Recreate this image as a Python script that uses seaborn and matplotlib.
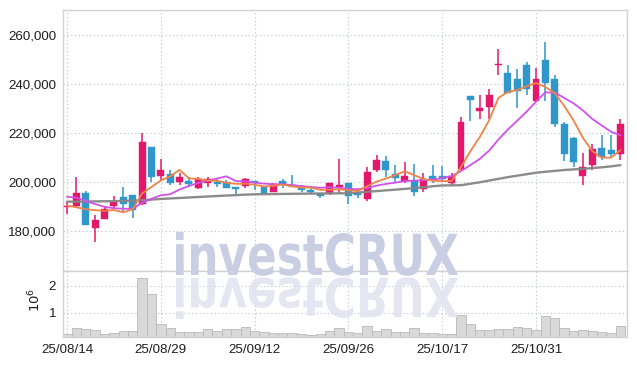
import numpy as np
import matplotlib
matplotlib.use("Agg")
import matplotlib.pyplot as plt
import seaborn as sns
from matplotlib.ticker import FuncFormatter
from matplotlib.textpath import TextPath
from matplotlib.patches import PathPatch
from matplotlib.font_manager import FontProperties
from matplotlib.transforms import Affine2D

# ---------------- data ----------------
tick_positions = [0, 10, 20, 30, 40, 50]
tick_labels = ["25/08/14", "25/08/29", "25/09/12", "25/09/26", "25/10/17", "25/10/31"]

opens = [189700, 190200, 195500, 181350, 185000, 190100, 193900, 194700, 191000, 214300,
         202570, 203150, 200100, 200400, 197700, 199450, 200100, 199850, 197950, 198500,
         200550, 198100, 196050, 200400, 198900, 197850, 196750, 195400, 195650, 198100,
         199450, 195650, 193050, 204900, 208550, 203250, 200550, 200400, 197000, 202450,
         202550, 199700, 205200, 235100, 229100, 230750, 247650, 244600, 242050, 247750,
         233200, 249800, 242050, 223700, 218100, 202550, 206950, 213900, 213050, 211300]
highs = [191800, 202200, 196300, 186500, 190300, 194400, 198000, 194800, 219900, 214300,
         209250, 204900, 203800, 202150, 202150, 202150, 201100, 200800, 197950, 201500,
         200600, 198350, 199700, 201100, 202850, 198650, 198350, 195650, 199700, 209250,
         199450, 196750, 206000, 211000, 210600, 206950, 208300, 207350, 203550, 206950,
         206500, 203550, 226400, 235100, 235400, 237850, 254150, 247750, 246000, 248850,
         246400, 257250, 243650, 224350, 218500, 211700, 215400, 219050, 219050, 225600]
lows = [186900, 189300, 182500, 175600, 184900, 189250, 187600, 185400, 190800, 200000,
        200800, 198800, 198800, 197850, 197150, 197850, 198100, 197400, 195100, 197400,
        196700, 195100, 195800, 197400, 197850, 196050, 195100, 193600, 194700, 195650,
        191000, 193350, 192250, 203950, 202150, 199850, 199450, 194400, 195800, 199450,
        200100, 198800, 204900, 224900, 225850, 225600, 243650, 236200, 230350, 235500,
        232900, 233050, 222600, 208700, 206000, 198800, 204900, 209000, 209900, 209000]
closes = [190200, 195400, 182600, 184350, 188850, 191700, 190900, 188700, 216450, 202200,
          204900, 199450, 201900, 199050, 201200, 201200, 199300, 197650, 197000, 201200,
          199450, 195650, 199200, 199200, 197850, 196750, 195800, 194400, 199450, 198900,
          194400, 194800, 203950, 208950, 204900, 201750, 202450, 196050, 201100, 201200,
          201200, 202550, 224350, 233450, 230200, 235500, 248300, 236450, 237250, 237950,
          242050, 240300, 223700, 211450, 208300, 206250, 213450, 210350, 211450, 223550]

ma5 = [190400, 189700, 188900, 188500, 188280, 188580, 187680, 188900, 195320, 197990,
       200630, 202340, 204980, 201500, 201300, 200560, 200530, 199680, 199270, 199270,
       198920, 198190, 198500, 198940, 198270, 197730, 197760, 196800, 196850, 197060,
       196590, 196390, 198300, 200200, 201400, 202870, 204400, 202820, 201250, 200510,
       200400, 200420, 206080, 212550, 218350, 225210, 234360, 236780, 237540, 239090,
       240400, 238800, 236250, 231090, 225160, 218000, 212630, 209960, 209960, 213010]
ma10 = [194000, 193600, 192300, 191000, 189900, 189300, 189100, 189100, 191500, 193140,
        194610, 195010, 196940, 198410, 199650, 200600, 201440, 202330, 200390, 200290,
        199740, 199360, 199090, 199110, 198770, 198330, 197980, 197650, 197900, 197670,
        197160, 197080, 197550, 198530, 199230, 199730, 200400, 200560, 200730, 200960,
        201640, 202410, 204450, 206900, 209430, 212810, 217390, 221430, 225050, 228720,
        232810, 236580, 236520, 234320, 232130, 229200, 225720, 223110, 220530, 219090]
ma60 = [192000, 192000, 192050, 192100, 192150, 192200, 192300, 192400, 192600, 192850,
        193100, 193300, 193500, 193700, 193900, 194100, 194300, 194500, 194650, 194850,
        195000, 195050, 195100, 195150, 195200, 195250, 195300, 195300, 195350, 195400,
        195400, 195700, 196000, 196300, 196600, 196900, 197200, 197500, 197900, 198300,
        198600, 198650, 198700, 199300, 199900, 200600, 201300, 202000, 202600, 203200,
        203800, 204200, 204550, 204900, 205150, 205400, 205700, 206000, 206400, 206900]

volume_m = [0.20, 0.42, 0.38, 0.35, 0.21, 0.25, 0.32, 0.32, 2.27, 1.68,
            0.58, 0.43, 0.29, 0.29, 0.29, 0.38, 0.32, 0.38, 0.38, 0.46,
            0.32, 0.29, 0.25, 0.25, 0.25, 0.21, 0.16, 0.21, 0.32, 0.42,
            0.29, 0.25, 0.50, 0.32, 0.38, 0.29, 0.29, 0.42, 0.25, 0.25,
            0.21, 0.21, 0.91, 0.58, 0.35, 0.35, 0.38, 0.38, 0.46, 0.42,
            0.35, 0.88, 0.81, 0.42, 0.32, 0.35, 0.32, 0.29, 0.25, 0.50]

price_ticks = [180000, 200000, 220000, 240000, 260000]

# ---------------- style ----------------
sns.set_style("white")
plt.rcParams["font.family"] = ["Liberation Sans", "DejaVu Sans"]

RED = "#e2186a"
BLUE = "#2f97c9"
ORANGE = "#ef8446"
MAGENTA = "#d052ea"
GREY = "#858585"
GRIDC = "#c3c7da"
SPINE = "#d2d2d2"
TXT = "#1e1e1e"
FS = 9.6

W, H = 637, 366
fig = plt.figure(figsize=(W / 100, H / 100), dpi=100)
left, right = 63, 627
top_main, bot_main, bot_vol = 9.5, 271, 337
ax = fig.add_axes([left / W, 1 - bot_main / H, (right - left) / W, (bot_main - top_main) / H])
axv = fig.add_axes([left / W, 1 - bot_vol / H, (right - left) / W, (bot_vol - bot_main) / H])

o = np.array(opens, float)
c = np.array(closes, float)
hi = np.array(highs, float)
lo = np.array(lows, float)
idx = np.arange(len(o))
cols = np.where(c >= o, RED, BLUE)

# wicks and bodies
ax.vlines(idx, lo, hi, colors=cols, lw=1.1, zorder=2)
body = np.maximum(np.abs(c - o), 600)
ax.bar(idx, body, bottom=np.minimum(o, c), width=0.74, color=cols,
       edgecolor=cols, linewidth=0.3, zorder=3)

# moving averages
sns.lineplot(x=idx, y=ma60, ax=ax, color=GREY, lw=1.7, zorder=4, alpha=0.95)
sns.lineplot(x=idx, y=ma10, ax=ax, color=MAGENTA, lw=1.3, zorder=5)
sns.lineplot(x=idx, y=ma5, ax=ax, color=ORANGE, lw=1.3, zorder=6)

ax.set_xlim(-0.43, 59.7)
ax.set_ylim(163700, 270400)
ax.set_yticks(price_ticks)
ax.yaxis.set_major_formatter(FuncFormatter(lambda v, p: f"{int(v):,}"))
ax.set_xticks(tick_positions)
ax.set_xticklabels([])
ax.set_xlabel("")
ax.set_ylabel("")
ax.tick_params(length=0, labelsize=FS, labelcolor=TXT, pad=5)
ax.grid(True, color=GRIDC, ls=(0, (1.2, 2.2)), lw=0.8)
for s in ax.spines.values():
    s.set_color(SPINE)
    s.set_linewidth(1.0)

# volume
vol = np.array(volume_m) * 1e6
sns.barplot(x=idx, y=vol, ax=axv, color="#d9d9d9", edgecolor="#b9b9b9",
            linewidth=0.6, width=1.0, saturation=1, zorder=2)
axv.set_xlim(-0.43, 59.7)
axv.set_ylim(0.1e6, 2.54e6)
axv.set_yticks([1e6, 2e6])
axv.set_yticklabels(["1", "2"])
axv.set_xticks(tick_positions)
axv.set_xticklabels(tick_labels)
axv.set_xlabel("")
axv.set_ylabel("")
axv.tick_params(length=0, labelsize=FS, labelcolor=TXT, pad=5)
axv.grid(True, color=GRIDC, ls=(0, (1.2, 2.2)), lw=0.8)
axv.set_axisbelow(True)
for s in axv.spines.values():
    s.set_color(SPINE)
    s.set_linewidth(1.0)
fig.text(35 / W, 1 - 300 / H, r"$10^6$", rotation=90, ha="center", va="center",
         fontsize=9.5, color=TXT)

# watermark with reflection
fp = FontProperties(family="DejaVu Sans", weight="bold")
tp = TextPath((0, 0), "investCRUX", size=1, prop=fp)
ext = tp.get_extents()
sx = (458 - 176) / ext.width
sy = (275 - 232) / ext.y1
base = H - 275
tr = Affine2D().translate(-ext.x0, 0).scale(sx, sy).translate(176, base)
fig.add_artist(PathPatch(tp, transform=tr, facecolor="#c9cee3", edgecolor="none", zorder=1))
trr = Affine2D().translate(-ext.x0, 0).scale(sx, -sy * 0.95).translate(176, base - 3)
fig.add_artist(PathPatch(tp, transform=trr, facecolor="#e0e3ef", edgecolor="none",
                         alpha=0.85, zorder=1))

fig.savefig("out.png", dpi=100, facecolor="white")
